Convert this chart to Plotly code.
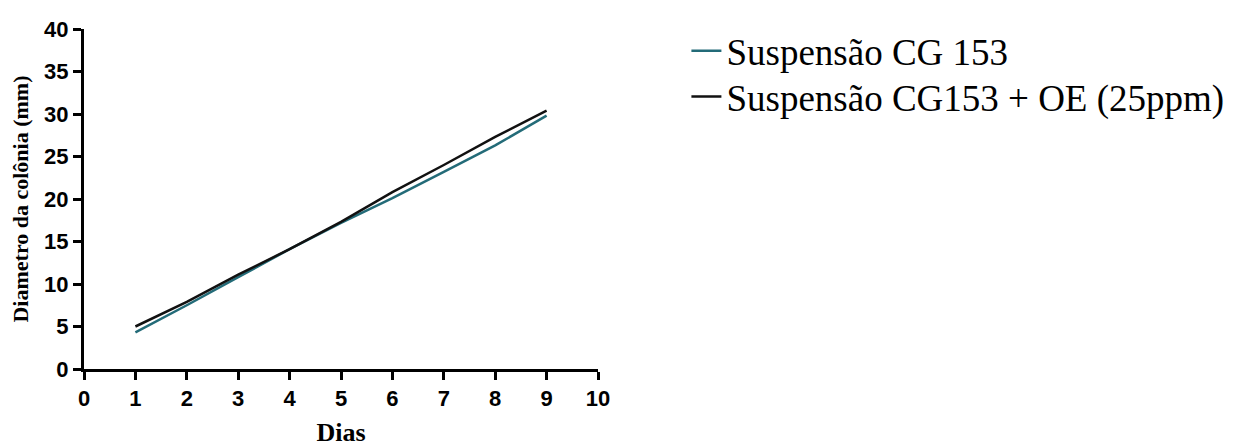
import plotly.graph_objects as go

dias = [1, 2, 3, 4, 5, 6, 7, 8, 9]
cg153 = [4.3, 7.5, 10.8, 14.1, 17.2, 20.1, 23.2, 26.3, 29.8]
cg153_oe = [5.0, 7.9, 11.1, 14.1, 17.3, 20.8, 24.0, 27.3, 30.4]
x_ticks = list(range(0, 11))
y_ticks = list(range(0, 41, 5))

serif = "Liberation Serif, Times New Roman, serif"
sans = "Liberation Sans, Arial, sans-serif"

fig = go.Figure()
fig.add_trace(go.Scatter(x=dias, y=cg153, mode="lines", name="Suspensão CG 153",
                         line=dict(color="#236b78", width=2.5), legend="legend"))
fig.add_trace(go.Scatter(x=dias, y=cg153_oe, mode="lines", name="Suspensão CG153 + OE (25ppm)",
                         line=dict(color="#111111", width=2.5), legend="legend2"))

axis_common = dict(showline=True, linecolor="black", linewidth=3, ticks="outside",
                   ticklen=8, tickwidth=3, tickcolor="black", showgrid=False, zeroline=False,
                   automargin=False,
                   tickfont=dict(family=sans, size=22, color="black", weight="bold"))

fig.update_xaxes(range=[0, 10], tickvals=x_ticks, ticktext=[str(v) for v in x_ticks],
                 title=dict(text="<b>Dias</b>", font=dict(family=serif, size=26, color="black"), standoff=21),
                 **axis_common)
fig.update_yaxes(range=[0, 40], tickvals=y_ticks, ticktext=[str(v) for v in y_ticks],
                 title=dict(text="<b>Diametro da colônia (mm)</b>", font=dict(family=serif, size=22, color="black"), standoff=10),
                 **axis_common)

leg_common = dict(font=dict(family=serif, size=37, color="black"), bgcolor="rgba(0,0,0,0)",
                  xanchor="left", yanchor="middle", itemwidth=30)
fig.update_layout(
    width=1225, height=439,
    margin=dict(l=76, r=635, t=21, b=78, autoexpand=False),
    plot_bgcolor="white", paper_bgcolor="white",
    showlegend=True,
    legend=dict(x=1.172, y=0.935, **leg_common),
    legend2=dict(x=1.172, y=0.80, **leg_common),
)
fig.write_html("out.html")
